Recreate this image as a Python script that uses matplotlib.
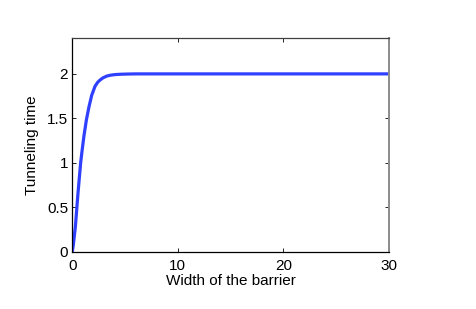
import matplotlib
matplotlib.use("Agg")
import matplotlib.pyplot as plt

# values
barrier_width = [0, 0.1, 0.29, 0.54, 0.79, 0.92, 1.1, 1.33, 1.58, 1.84,
                 2.15, 2.4, 2.62, 2.9, 3.26, 3.6, 4.04, 4.6, 5.2, 6, 8,
                 10, 15, 20, 25, 30]
tunneling_time = [0, 0.08, 0.28, 0.66, 1.0, 1.13, 1.3, 1.48, 1.63, 1.76,
                  1.86, 1.905, 1.93, 1.955, 1.975, 1.985, 1.992, 1.996,
                  1.998, 2.0, 2.0, 2.0, 2.0, 2.0, 2.0, 2.0]

x_ticks = [0, 10, 20, 30]
y_ticks = [0, 0.5, 1, 1.5, 2]
y_tick_labels = ["0", "0.5", "1", "1.5", "2"]

plt.rcParams["font.family"] = ["Liberation Sans", "DejaVu Sans"]

fig = plt.figure(figsize=(4.76, 3.09), dpi=100)
ax = fig.add_axes([0.1519, 0.1854, 0.6653, 0.6906])

ax.plot(barrier_width, tunneling_time, color="#2f40ff", lw=2.3,
        solid_capstyle="butt", solid_joinstyle="round")

ax.set_xlim(0, 30)
ax.set_ylim(0, 2.4)
ax.set_xticks(x_ticks)
ax.set_xticklabels([str(t) for t in x_ticks])
ax.set_yticks(y_ticks)
ax.set_yticklabels(y_tick_labels)
ax.tick_params(direction="in", length=3, width=0.6, labelsize=11,
               top=True, right=True, colors="black")
ax.tick_params(axis="x", pad=5)
ax.tick_params(axis="y", pad=3)

ax.set_xlabel("Width of the barrier", fontsize=11, labelpad=1)
ax.set_ylabel("Tunneling time", fontsize=11, labelpad=6)

ax.spines["left"].set_color("black")
ax.spines["bottom"].set_color("black")
ax.spines["top"].set_color("#404040")
ax.spines["right"].set_color("#8c8c8c")
ax.spines["right"].set_linewidth(1.4)
for s in ("left", "bottom", "top"):
    ax.spines[s].set_linewidth(0.9)

fig.savefig("out.png", dpi=100)
